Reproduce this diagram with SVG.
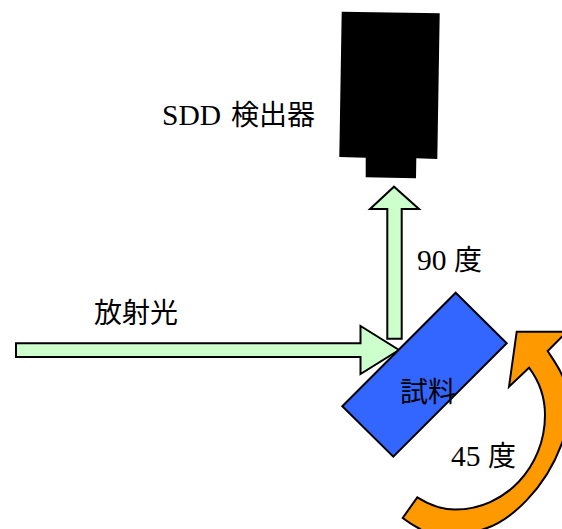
<svg xmlns="http://www.w3.org/2000/svg" width="562" height="529" viewBox="0 0 562 529">
<style>
text{font-family:"Liberation Serif","Noto Sans CJK JP",serif;font-size:28px;font-weight:400;fill:#000}
.lat{font-size:29.5px}
.beam{fill:#ccffcc;stroke:#000;stroke-width:2;stroke-linejoin:miter}
</style>
<rect width="562" height="529" fill="#fff"/>
<g id="connectors">
<path class="beam" d="M16 343.3H360.5V326L399 350L360.5 374V357H16Z"/>
<path class="beam" d="M387.3 338.7V209H370L394 186.7L419 209H401.7V338.7Z"/>
<path d="M516.7 331.7H567L547.7 351C552 358 558 366 562 375C572 398 572 420 562 443C545 490 510 520 487 528C465 536 440 541 420 529C414 526 408 522 402.7 518L417.3 497.3C428 504 441 509.5 455 509.5C505 509.5 545 467 545 415C545 398 539 381 529 367.7L509 386.7Z" fill="#ff9900" stroke="#000" stroke-width="2" stroke-linejoin="miter"/>
</g>
<g id="detector">
<path d="M341.7 11.7L439.7 13.3L437.3 159L416.3 158.3L416 178.3L365.7 177.3V157.7L339.3 157Z" fill="#000"/>
<text x="162" y="125"><tspan class="lat">SDD</tspan> <tspan x="231">検出器</tspan></text>
</g>
<g id="sample">
<path d="M455.7 292.7L506.7 343.3L393.3 456.7L342.3 406.3Z" fill="#3366ff" stroke="#000" stroke-width="2" stroke-linejoin="miter"/>
<text x="400" y="402">試料</text>
</g>
<g id="source-label"><text x="94" y="323">放射光</text></g>
<g id="angle90-label"><text x="417" y="270"><tspan class="lat">90</tspan> <tspan x="454">度</tspan></text></g>
<g id="angle45-label"><text x="451" y="466"><tspan class="lat">45</tspan> <tspan x="488">度</tspan></text></g>
</svg>
